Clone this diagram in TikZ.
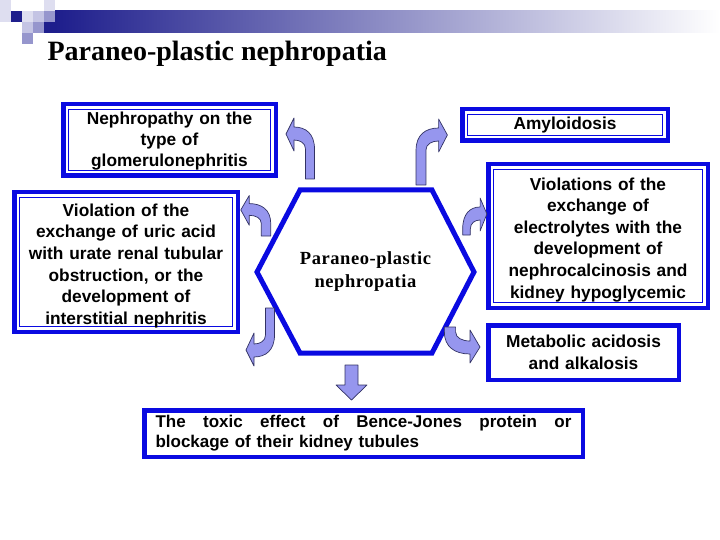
\documentclass[tikz,border=0pt]{standalone}
\usepackage{fontspec}
\setmainfont{Liberation Serif}
\setsansfont{Liberation Sans}
\usepackage{tikz}

\definecolor{boxblue}{RGB}{10,10,225}
\definecolor{navy}{RGB}{30,30,140}
\definecolor{sqpale}{RGB}{222,222,240}
\definecolor{sqlight}{RGB}{196,196,228}
\definecolor{sqmid}{RGB}{150,150,205}
\definecolor{arrowfill}{RGB}{150,150,238}
\definecolor{arrowline}{RGB}{50,50,100}

\tikzset{
  pics/bentarrow/.style={code={
    \draw[arrowshape] (4.5,0) -- (4.5,-#1)
      .. controls (4.5,-#1-15) and (-4,-#1-22) .. (-16,-#1-22)
      -- (-16,-#1-31) -- (-24,-#1-15) -- (-16,-#1+2) -- (-16,-#1-9)
      .. controls (-10,-#1-9) and (-4.5,-#1-6) .. (-4.5,-#1)
      -- (-4.5,0) -- cycle;
  }}
}

\begin{document}
\begin{tikzpicture}[x=1pt,y=-1pt,
  bluebox/.style={draw=boxblue, line width=4.5pt, fill=white, align=center, inner sep=0pt,
    font=\sffamily\bfseries\fontsize{17.3}{21.6}\selectfont},
  innerline/.style={path picture={\draw[boxblue, line width=1pt]
    ([shift={(5pt,5pt)}]path picture bounding box.south west) rectangle
    ([shift={(-5pt,-5pt)}]path picture bounding box.north east);}},
  textdown/.style={execute at begin node={\rule{0pt}{#1}}},
  arrowshape/.style={fill=arrowfill, draw=arrowline, line width=0.7pt, line join=round}]

\useasboundingbox (0,0) rectangle (720,540);

% Header bar and squares
\shade[left color=navy, right color=white] (55,11) rectangle (720,33);
\foreach \sx/\sy/\sc in {0/0/sqpale, 0/11/sqpale, 11/11/navy, 22/11/sqpale,
  33/11/sqlight, 44/0/sqpale, 44/11/sqmid, 44/22/navy, 22/22/sqlight,
  33/22/sqmid, 22/33/sqmid}
  \fill[\sc] (\sx,\sy) rectangle ++(11,11);

% Title
\node[anchor=base west, font=\bfseries\fontsize{28}{32}\selectfont] (title) at (44,61)
  {Paraneo-plastic nephropatia};

% Central hexagon
\draw[boxblue, line width=5pt] (300,190) -- (432,190) -- (474,272) -- (432,353)
  -- (300,353) -- (257,272) -- cycle;
\node[align=center, font=\bfseries\fontsize{18.5}{23}\selectfont\addfontfeature{LetterSpace=3}]
  (core) at (365.5,272) {Paraneo-plastic\\nephropatia};

% Boxes
\node[bluebox, innerline, textdown=15pt, minimum width=212.5pt, minimum height=71.5pt, text width=205pt,
  font=\sffamily\bfseries\fontsize{17.3}{21}\selectfont]
  (glom) at (169.5,140) {Nephropathy on the\\type of\\glomerulonephritis};
\node[bluebox, innerline, textdown=20pt, minimum width=223.5pt, minimum height=139.5pt, text width=215pt]
  (uric) at (126,262) {Violation of the\\exchange of uric acid\\with urate renal tubular\\obstruction, or the\\development of\\interstitial nephritis};
\node[bluebox, innerline, minimum width=205.5pt, minimum height=31.5pt, text width=195pt]
  (amyl) at (565,125) {Amyloidosis};
\node[bluebox, innerline, textdown=20pt, minimum width=219.5pt, minimum height=143.5pt, text width=210pt]
  (electro) at (598,236) {Violations of the\\exchange of\\electrolytes with the\\development of\\nephrocalcinosis and\\kidney hypoglycemic};
\node[bluebox, minimum width=190.5pt, minimum height=54.5pt, text width=180pt]
  (acid) at (583.5,352.5) {Metabolic acidosis\\and alkalosis};
\node[bluebox, align=left, minimum width=438.5pt, minimum height=46.5pt, text width=416pt,
  font=\sffamily\bfseries\fontsize{17}{20}\selectfont]
  (bence) at (363.5,433.5) {\hbox to 416pt{The\hfill toxic\hfill effect\hfill of\hfill Bence-Jones\hfill protein\hfill or}\\blockage of their kidney tubules};

% Bent arrows
\pic at (310,179) {bentarrow=30};
\pic[xscale=-1.1] at (421,185) {bentarrow=35};
\pic[xscale=1.05, yscale=0.9] at (266,236) {bentarrow=14};
\pic[yscale=-1] at (270,308) {bentarrow=27};
\pic[xscale=-0.85] at (466.5,235) {bentarrow=6};
\pic[xscale=-1.25, yscale=-1] at (450,327) {bentarrow=5};

% Down arrow
\draw[arrowshape] (345,365) -- (358,365) -- (358,385) -- (367,385) -- (351.5,400)
  -- (336,385) -- (345,385) -- cycle;

\end{tikzpicture}
\end{document}
